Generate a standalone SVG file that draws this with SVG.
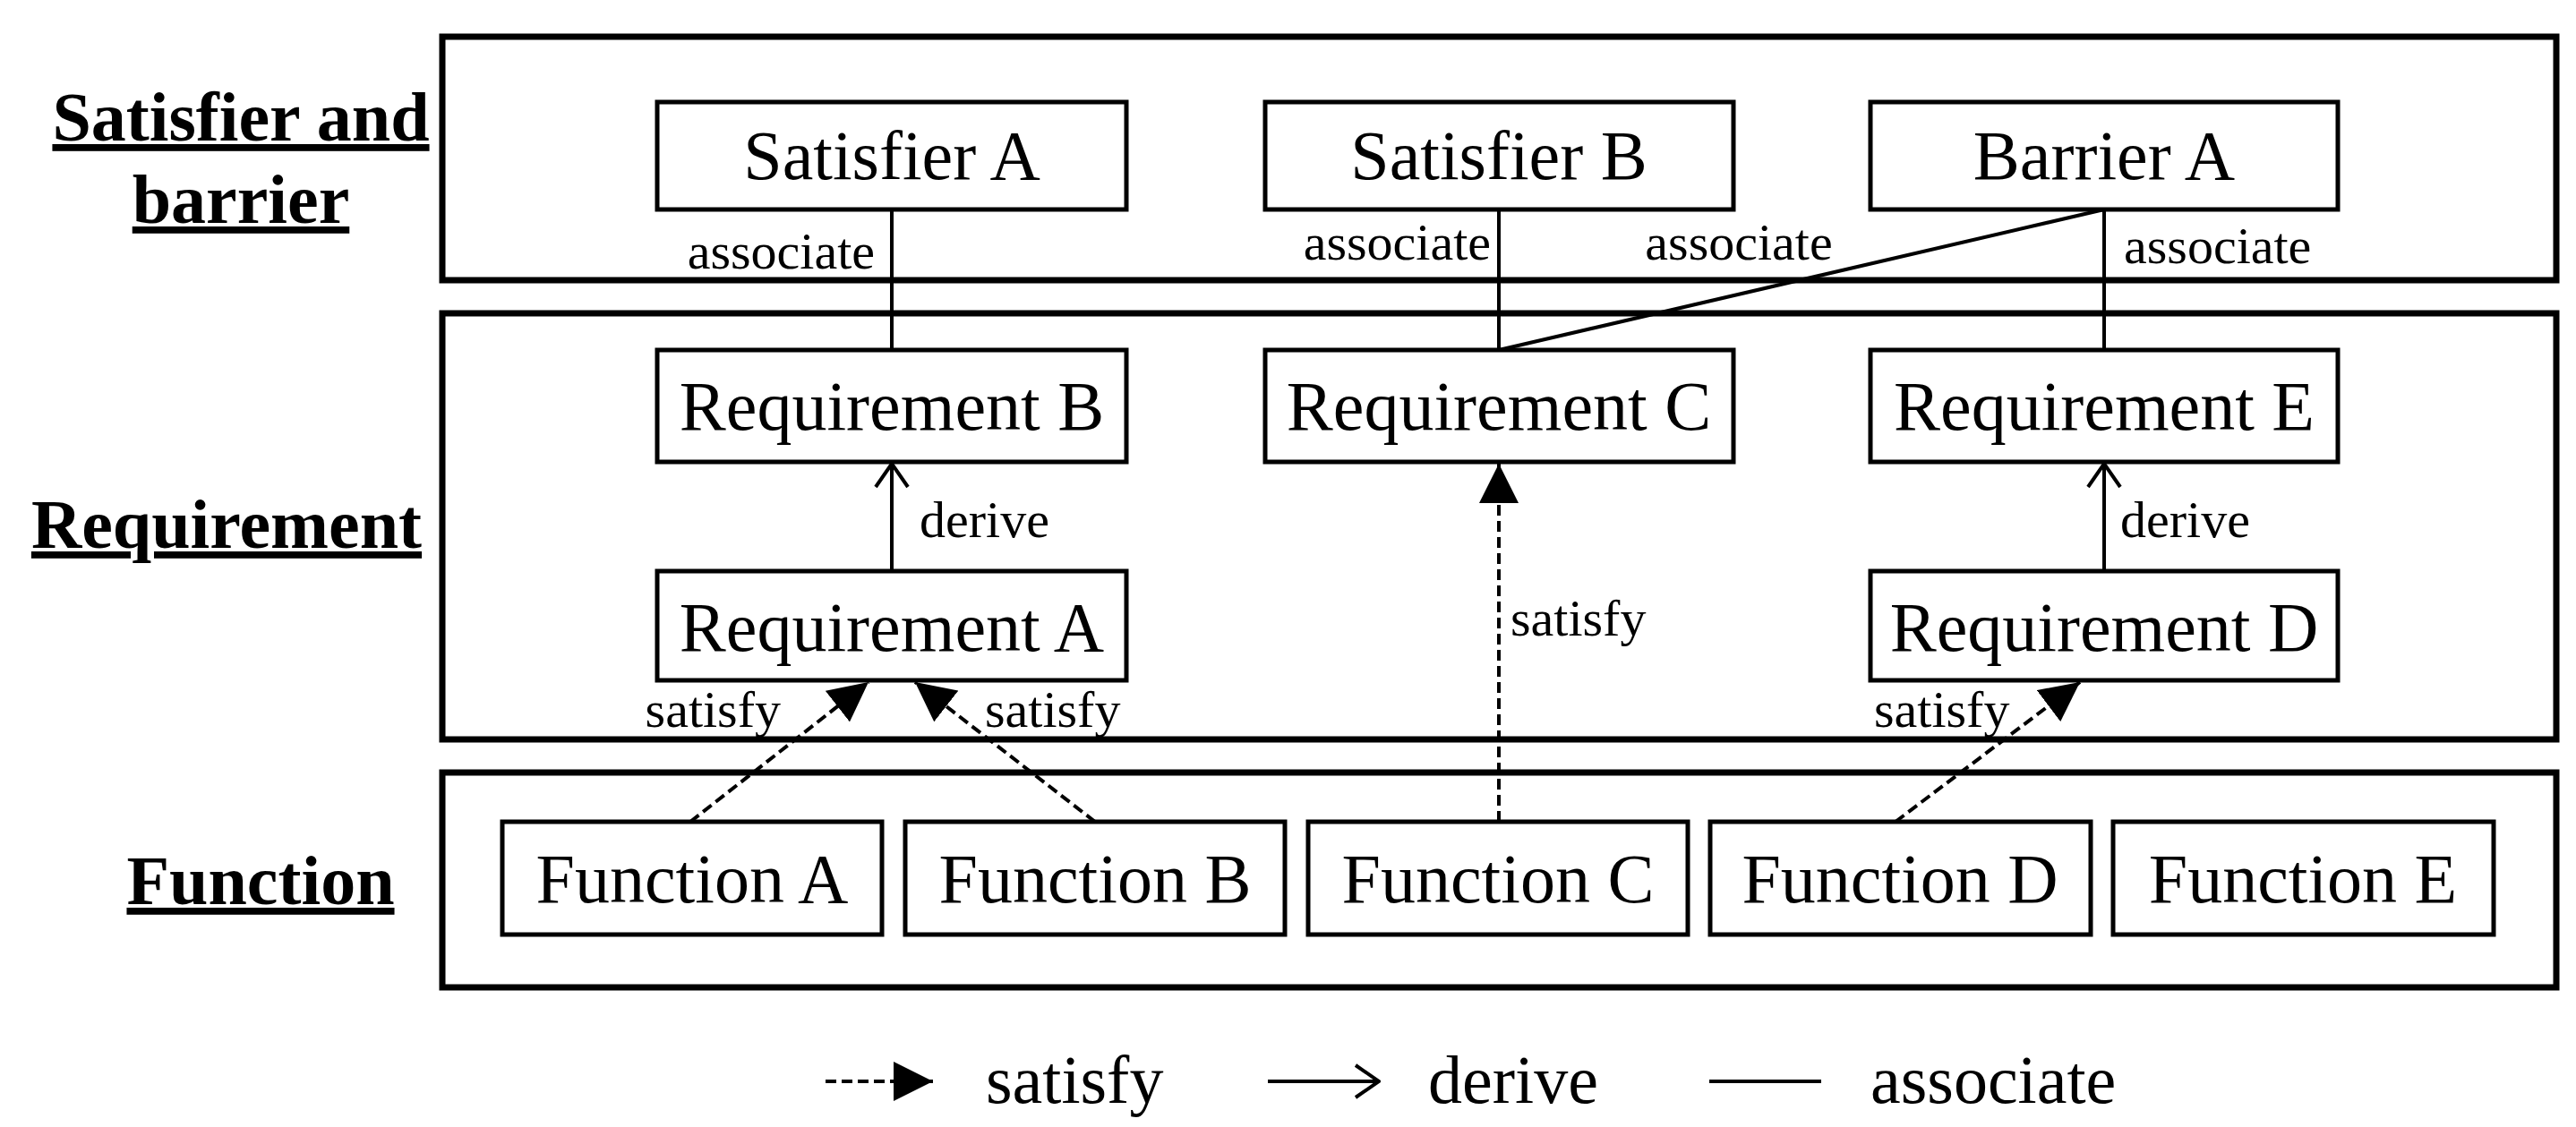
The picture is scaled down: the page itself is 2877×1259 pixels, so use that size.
<svg xmlns="http://www.w3.org/2000/svg" width="2877" height="1259" viewBox="0 0 2877 1259">
<style>
text{font-family:"Liberation Serif","Times New Roman",serif;fill:#000}
.node rect{fill:#fff;stroke:#000;stroke-width:5}
.node text{font-size:78px;text-anchor:middle}
.lane{fill:none;stroke:#000;stroke-width:7}
.side{font-weight:bold;font-size:78px;text-anchor:middle;text-decoration:underline}
.lbl{font-size:58px}
.leg{font-size:76px}
.assoc{stroke:#000;stroke-width:4;fill:none}
.derive{stroke:#000;stroke-width:4;fill:none;marker-end:url(#open)}
.satisfy{stroke:#000;stroke-width:4;fill:none;stroke-dasharray:12 6;marker-end:url(#tri)}
</style>
<defs>
<marker id="tri" markerUnits="userSpaceOnUse" markerWidth="46" markerHeight="44" refX="44" refY="22" orient="auto"><path d="M0,0 L44,22 L0,44 Z" fill="#000"/></marker>
<marker id="open" markerUnits="userSpaceOnUse" markerWidth="30" markerHeight="40" refX="28" refY="20" orient="auto"><path d="M2,2 L28,20 L2,38" fill="none" stroke="#000" stroke-width="4"/></marker>
</defs>
<rect class="lane" x="494" y="41" width="2361" height="272"/>
<rect class="lane" x="494" y="350" width="2361" height="476"/>
<rect class="lane" x="494" y="863" width="2361" height="240"/>
<text class="side" x="269" y="157">Satisfier and</text>
<text class="side" x="269" y="249">barrier</text>
<text class="side" x="253" y="612">Requirement</text>
<text class="side" x="291" y="1010">Function</text>
<g id="connectors">
<line class="assoc" x1="996" y1="234" x2="996" y2="391"/>
<line class="assoc" x1="1674" y1="234" x2="1674" y2="391"/>
<line class="assoc" x1="2350" y1="234" x2="1674" y2="391"/>
<line class="assoc" x1="2350" y1="234" x2="2350" y2="391"/>
<line class="derive" x1="996" y1="638" x2="996" y2="518"/>
<line class="derive" x1="2350" y1="638" x2="2350" y2="518"/>
<line class="satisfy" x1="1674" y1="918" x2="1674" y2="518"/>
<line class="satisfy" x1="771" y1="918" x2="970" y2="762"/>
<line class="satisfy" x1="1223" y1="918" x2="1022" y2="762"/>
<line class="satisfy" x1="2117" y1="918" x2="2323" y2="762"/>
<text class="lbl" x="977" y="300" text-anchor="end">associate</text>
<text class="lbl" x="1665" y="290" text-anchor="end">associate</text>
<text class="lbl" x="1942" y="290" text-anchor="middle">associate</text>
<text class="lbl" x="2372" y="294">associate</text>
<text class="lbl" x="1027" y="600">derive</text>
<text class="lbl" x="2368" y="600">derive</text>
<text class="lbl" x="1687" y="710">satisfy</text>
<text class="lbl" x="872" y="812" text-anchor="end">satisfy</text>
<text class="lbl" x="1100" y="812">satisfy</text>
<text class="lbl" x="2093" y="812">satisfy</text>
</g>
<g id="satA" class="node"><rect x="734" y="114" width="524" height="120"/><text x="996" y="200">Satisfier A</text></g>
<g id="satB" class="node"><rect x="1413" y="114" width="523" height="120"/><text x="1674" y="200">Satisfier B</text></g>
<g id="barA" class="node"><rect x="2089" y="114" width="522" height="120"/><text x="2350" y="200">Barrier A</text></g>
<g id="reqB" class="node"><rect x="734" y="391" width="524" height="125"/><text x="996" y="480">Requirement B</text></g>
<g id="reqC" class="node"><rect x="1413" y="391" width="523" height="125"/><text x="1674" y="480">Requirement C</text></g>
<g id="reqE" class="node"><rect x="2089" y="391" width="522" height="125"/><text x="2350" y="480">Requirement E</text></g>
<g id="reqA" class="node"><rect x="734" y="638" width="524" height="122"/><text x="996" y="727">Requirement A</text></g>
<g id="reqD" class="node"><rect x="2089" y="638" width="522" height="122"/><text x="2350" y="727">Requirement D</text></g>
<g id="funA" class="node"><rect x="561" y="918" width="424" height="126"/><text x="773" y="1008">Function A</text></g>
<g id="funB" class="node"><rect x="1011" y="918" width="424" height="126"/><text x="1223" y="1008">Function B</text></g>
<g id="funC" class="node"><rect x="1461" y="918" width="424" height="126"/><text x="1673" y="1008">Function C</text></g>
<g id="funD" class="node"><rect x="1910" y="918" width="425" height="126"/><text x="2122" y="1008">Function D</text></g>
<g id="funE" class="node"><rect x="2360" y="918" width="425" height="126"/><text x="2572" y="1008">Function E</text></g>
<g id="legend">
<line class="satisfy" x1="922" y1="1208" x2="1042" y2="1208"/>
<text class="leg" x="1101" y="1232">satisfy</text>
<line class="derive" x1="1416" y1="1208" x2="1540" y2="1208"/>
<text class="leg" x="1595" y="1232">derive</text>
<line class="assoc" x1="1909" y1="1208" x2="2034" y2="1208"/>
<text class="leg" x="2089" y="1232">associate</text>
</g>
</svg>
